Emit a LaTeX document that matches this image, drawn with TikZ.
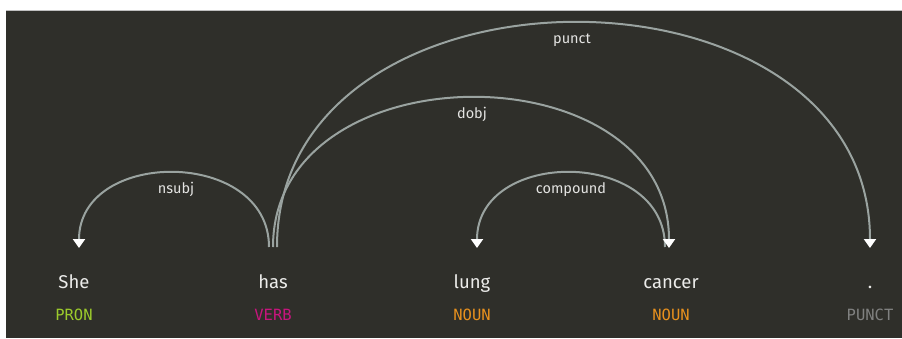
\documentclass[tikz,border=0pt]{standalone}
\usepackage{fontspec}
\setmainfont{Fira Sans}
\newfontfamily\tagfont{DejaVu Sans Mono}
\usetikzlibrary{arrows.meta,calc}
\definecolor{bgdark}{HTML}{2F2F2A}
\definecolor{arcgray}{HTML}{9AA3A0}
\definecolor{wordcol}{HTML}{ECECEA}
\definecolor{labcol}{HTML}{E4E4E2}
\definecolor{prongreen}{HTML}{9CCB2C}
\definecolor{verbmag}{HTML}{C8157E}
\definecolor{nounorange}{HTML}{E8911E}
\definecolor{punctgray}{HTML}{808180}
\tikzset{
  word/.style={anchor=base, text=wordcol, font=\fontsize{18.5}{20}\selectfont, inner sep=0pt},
  postag/.style={anchor=base, font=\tagfont\fontsize{15.5}{17}\selectfont, inner sep=0pt},
  deplabel/.style={text=labcol, font=\fontsize{14.5}{16}\selectfont, inner sep=0pt},
  deparc/.style={draw=arcgray, line width=2pt, -{Triangle[width=12pt,length=9pt,color=white]}},
}
\begin{document}
\begin{tikzpicture}[x=1pt,y=-1pt]
\useasboundingbox (0,0) rectangle (902,338);
\fill[white] (0,0) rectangle (902,338);
\fill[bgdark] (6,10) rectangle (902,338);
\draw[gray!50, line width=0.6pt] (6,10) -- (902,10);
% words
\node[word] (she) at (74,288) {She};
\node[word] (has) at (273,288) {has};
\node[word] (lung) at (472,288) {lung};
\node[word] (cancer) at (671,288) {cancer};
\node[word] (dot) at (870,288) {.};
% tags
\node[postag, text=prongreen] (t1) at (74,320) {PRON};
\node[postag, text=verbmag] (t2) at (273,320) {VERB};
\node[postag, text=nounorange] (t3) at (472,320) {NOUN};
\node[postag, text=nounorange] (t4) at (671,320) {NOUN};
\node[postag, text=punctgray] (t5) at (870,320) {PUNCT};
% arc endpoints
\coordinate (hasA) at ($(has.base)+(-4,-41)$);
\coordinate (hasB) at ($(has.base)+(0,-41)$);
\coordinate (hasC) at ($(has.base)+(4,-41)$);
\coordinate (sheE) at ($(she.base)+(5,-40)$);
\coordinate (lungE) at ($(lung.base)+(5,-40)$);
\coordinate (cancerS) at ($(cancer.base)+(-6,-41)$);
\coordinate (cancerE) at ($(cancer.base)+(-2,-40)$);
\coordinate (dotE) at ($(dot.base)+(0,-40)$);
% arcs
\draw[deparc] (hasA) .. controls ($(hasA)+(0,-99)$) and ($(sheE)+(0,-100)$) .. (sheE);
\draw[deparc] (cancerS) .. controls ($(cancerS)+(0,-99)$) and ($(lungE)+(0,-100)$) .. (lungE);
\draw[deparc] (hasB) .. controls ($(hasB)+(0,-199)$) and ($(cancerE)+(0,-200)$) .. (cancerE);
\draw[deparc] (hasC) .. controls ($(hasC)+(0,-299)$) and ($(dotE)+(0,-300)$) .. (dotE);
% labels
\node[deplabel] (lnsubj) at (176,189) {nsubj};
\node[deplabel] (lcomp) at (571,190) {compound};
\node[deplabel] (ldobj) at (472,114) {dobj};
\node[deplabel] (lpunct) at (572,40) {punct};
\end{tikzpicture}
\end{document}
